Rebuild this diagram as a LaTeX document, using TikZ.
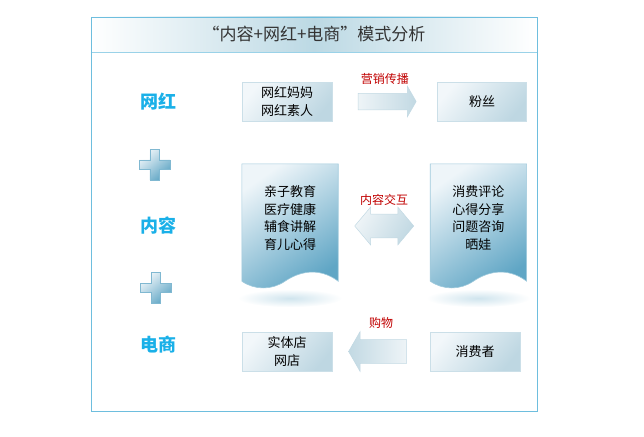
\documentclass[tikz,border=0pt]{standalone}
\usepackage{fontspec}
\setmainfont{Noto Sans CJK SC}
\usepackage{xcolor}
\usepackage{tikz}
\usetikzlibrary{shapes.arrows, positioning, calc, backgrounds}
\definecolor{framecol}{RGB}{110,190,222}
\definecolor{labelblue}{RGB}{26,176,232}
\definecolor{labelred}{RGB}{192,0,0}
\definecolor{boxlight}{RGB}{242,247,250}
\definecolor{boxdark}{RGB}{190,215,226}
\definecolor{doclight}{RGB}{238,245,249}
\definecolor{docdark}{RGB}{96,166,197}
\definecolor{titlemid}{RGB}{188,217,228}
\definecolor{arrowlight}{RGB}{238,244,247}
\definecolor{arrowdark}{RGB}{194,217,227}

\begin{document}
\begin{tikzpicture}[
  x=1pt, y=-1pt,
  box/.style={rectangle, draw=boxdark!80, line width=0.6pt,
              top color=boxlight, bottom color=boxdark, shading angle=50,
              minimum width=90, minimum height=39, align=center,
              font=\fontsize{13}{18}\selectfont},
  docbox/.style={rectangle, minimum width=96, minimum height=108,
                 align=center, font=\fontsize{13}{17.5}\selectfont},
  docshade/.style={top color=doclight, bottom color=docdark, shading angle=35,
                   draw=docdark!60, line width=0.6pt},
  leftlabel/.style={font=\fontsize{18}{20}\selectfont\bfseries, text=labelblue},
  redlabel/.style={font=\fontsize{12}{14}\selectfont, text=labelred},
  blockarr/.style={single arrow, single arrow tip angle=120,
                   single arrow head indent=0, inner xsep=0, draw=arrowdark,
                   line width=0.5pt, left color=arrowlight, right color=arrowdark},
  plusshade/.style={top color=doclight, bottom color=docdark, shading angle=40,
                    draw=docdark!80, line width=0.5pt},
]
  \useasboundingbox (0,0) rectangle (644,436);

  % title bar and frame
  \node[rectangle, minimum width=446, minimum height=35,
        left color=white, right color=white, middle color=titlemid,
        font=\fontsize{17}{19}\selectfont, text=black!80] (title) at (314,34.5)
    {“内容+网红+电商”模式分析};
  \draw[framecol!70, line width=0.6pt] (title.south west) -- (title.south east);
  \draw[framecol, line width=0.8pt] (91,17) rectangle (537,411);

  % left column
  \node[leftlabel] (wanghong)  at (158,102) {网红};
  \node[leftlabel] (neirong)   at (158,226) {内容};
  \node[leftlabel] (dianshang) at (158,345) {电商};
  \foreach \px/\py in {154.5/164.5, 156/288}
    \shade[plusshade] ({\px-4.7},{\py-15.5}) -- ++(9.4,0) -- ++(0,10.8)
      -- ++(10.8,0) -- ++(0,9.4) -- ++(-10.8,0) -- ++(0,10.8) -- ++(-9.4,0)
      -- ++(0,-10.8) -- ++(-10.8,0) -- ++(0,-9.4) -- ++(10.8,0) -- cycle;

  % top row
  \node[box] (mama) at (287,101.5) {网红妈妈\\网红素人};
  \node[box, right=105pt of mama, minimum width=89] (fans) {粉丝};
  \node[blockarr, minimum height=58, minimum width=28, inner ysep=8]
    (spread) at ($(mama.east)!0.5!(fans.west)$) {};
  \node[redlabel, above=5pt of spread] (spreadlbl) {营销传播};

  % documents
  \node[docbox] (docL) at (290,218) {亲子教育\\医疗健康\\辅食讲解\\育儿心得};
  \node[docbox, right=92pt of docL] (docR) {消费评论\\心得分享\\问题咨询\\晒娃};
  \begin{scope}[on background layer]
    \foreach \d in {docL, docR} {
      \shade[inner color=docdark!30, outer color=white]
        ($(\d.south)+(0,26)$) ellipse [x radius=52, y radius=9];
      \shade[docshade] (\d.north west) -- (\d.north east)
        -- ($(\d.south east)+(0,9)$)
        .. controls ($(\d.south east)+(-20,-6)$) and ($(\d.south east)+(-40,0)$)
        .. ($(\d.south)+(-5,9)$)
        .. controls ($(\d.south west)+(30,18)$) and ($(\d.south west)+(13,18)$)
        .. ($(\d.south west)+(0,9)$) -- cycle;
    }
  \end{scope}
  \node[double arrow, double arrow tip angle=100, double arrow head indent=0,
        inner xsep=0, inner ysep=11.5, minimum height=59, minimum width=38,
        draw=arrowdark, line width=0.5pt, top color=arrowlight,
        bottom color=arrowdark, shading angle=60]
    (interact) at ($(docL.east)!0.5!(docR.west)+(0,8)$) {};
  \node[redlabel, above=5pt of interact] (interactlbl) {内容交互};

  % bottom row
  \node[box] (store) at (287,351.5) {实体店\\网店};
  \node[box] (consumer) at (475,351.5) {消费者};
  \node[blockarr, shape border rotate=180, minimum height=58, minimum width=40,
        inner ysep=10, left color=arrowdark, right color=arrowlight]
    (shop) at ($(store.east)!0.5!(consumer.west)$) {};
  \node[redlabel, above=7pt of shop] (shoplbl) {购物};
\end{tikzpicture}
\end{document}
